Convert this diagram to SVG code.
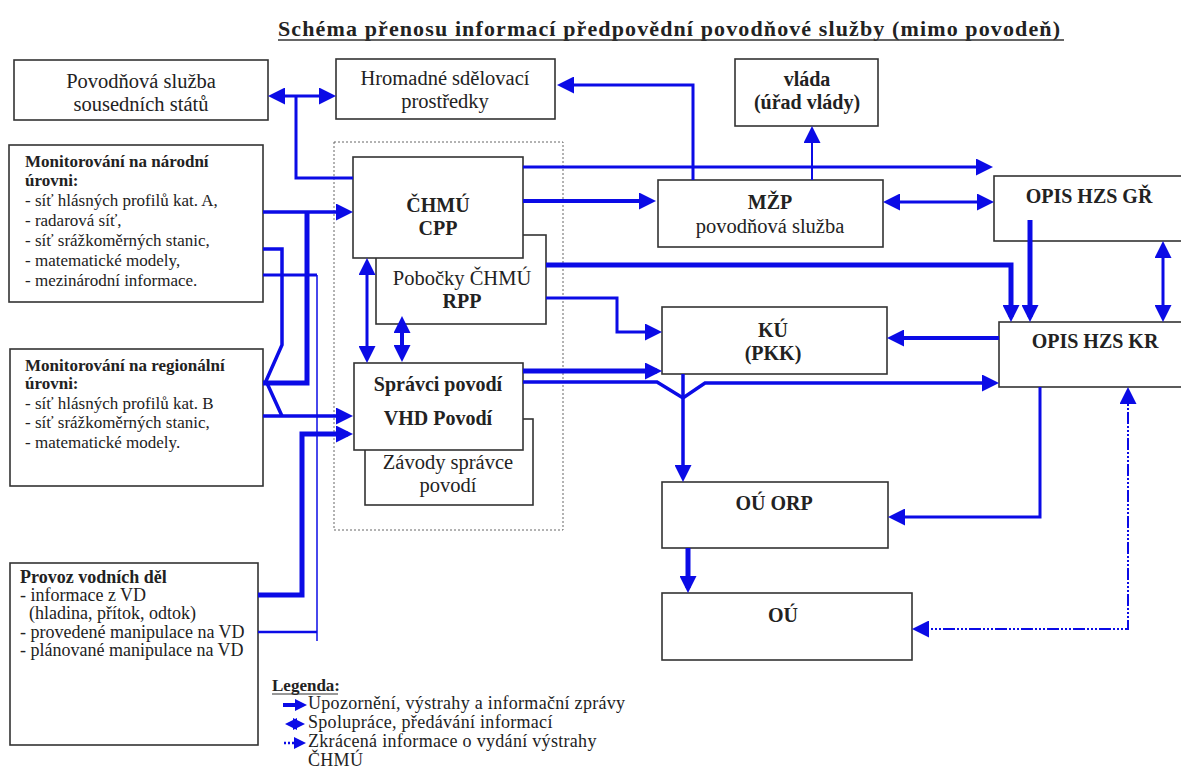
<svg xmlns="http://www.w3.org/2000/svg" width="1181" height="782" viewBox="0 0 1181 782" font-family="'Liberation Serif', 'Times New Roman', Times, serif">
<style>
.box{fill:#fff;stroke:#333;stroke-width:1.6}
.t{font-family:'Liberation Serif','Times New Roman',Times,serif;fill:#222}
.r19{font-size:20.5px}
.b20{font-size:20px;font-weight:bold}
.s17{font-size:17px}
.s18{font-size:18px}
.lg{font-size:18px;letter-spacing:0.3px}
.bold{font-weight:bold}
.c{stroke:#0b0be6;fill:none;stroke-linejoin:miter}
.w15{stroke-width:1.5}.w2{stroke-width:2}.w3{stroke-width:3}.w35{stroke-width:3.5}.w4{stroke-width:4}.w5{stroke-width:5}
.e{marker-end:url(#ah)}
.se{marker-start:url(#ah);marker-end:url(#ah)}
</style>
<defs>
<marker id="ah" viewBox="0 0 17 17" refX="12" refY="8.5" markerWidth="17" markerHeight="17" markerUnits="userSpaceOnUse" orient="auto-start-reverse"><path d="M0,0 L17,8.5 L0,17 z" fill="#0b0be6"/></marker>
<marker id="al" viewBox="0 0 12 12" refX="8" refY="6" markerWidth="12" markerHeight="12" markerUnits="userSpaceOnUse" orient="auto-start-reverse"><path d="M0,0 L12,6 L0,12 z" fill="#0b0be6"/></marker>
</defs>
<rect width="1181" height="782" fill="#fff"/>

<g id="title">
<text class="t bold" x="278" y="36" font-size="22" textLength="782" lengthAdjust="spacing">Schéma přenosu informací předpovědní povodňové služby (mimo povodeň)</text>
<line x1="278" y1="40" x2="1064" y2="40" stroke="#333" stroke-width="1.5"/>
</g>

<rect id="group-chmu" x="334" y="142" width="229" height="388" fill="none" stroke="#666" stroke-width="1" stroke-dasharray="2 2"/>

<g id="n-povodnova">
<rect class="box" x="14" y="60" width="254" height="60"/>
<text class="t r19" x="141" y="88" text-anchor="middle">Povodňová služba</text>
<text class="t r19" x="141" y="111" text-anchor="middle">sousedních států</text>
</g>
<g id="n-hromadne">
<rect class="box" x="336" y="59" width="219" height="60"/>
<text class="t r19" x="445" y="85" text-anchor="middle">Hromadné sdělovací</text>
<text class="t r19" x="445" y="108" text-anchor="middle">prostředky</text>
</g>
<g id="n-vlada">
<rect class="box" x="735" y="59" width="143" height="67"/>
<text class="t b20" x="807" y="86" text-anchor="middle">vláda</text>
<text class="t b20" x="807" y="109" text-anchor="middle">(úřad vlády)</text>
</g>
<g id="n-mon-narodni">
<rect class="box" x="9" y="145" width="254" height="157"/>
<text class="t s17 bold" x="25" y="167">Monitorování na národní</text>
<text class="t s17 bold" x="25" y="186">úrovni:</text>
<text class="t s17" x="25" y="206">- síť hlásných profilů kat. A,</text>
<text class="t s17" x="25" y="226">- radarová síť,</text>
<text class="t s17" x="25" y="246">- síť srážkoměrných stanic,</text>
<text class="t s17" x="25" y="266">- matematické modely,</text>
<text class="t s17" x="25" y="286">- mezinárodní informace.</text>
</g>
<g id="n-pobocky">
<rect class="box" x="376" y="235" width="170" height="89"/>
<text class="t r19" x="462" y="285" text-anchor="middle">Pobočky ČHMÚ</text>
<text class="t b20" x="462" y="308" text-anchor="middle">RPP</text>
</g>
<g id="n-chmu">
<rect class="box" x="353" y="157" width="170" height="101"/>
<text class="t b20" x="438" y="212" text-anchor="middle">ČHMÚ</text>
<text class="t b20" x="438" y="235" text-anchor="middle">CPP</text>
</g>
<g id="n-zavody">
<rect class="box" x="365" y="419" width="168" height="86"/>
<text class="t r19" x="448" y="469" text-anchor="middle">Závody správce</text>
<text class="t r19" x="448" y="492" text-anchor="middle">povodí</text>
</g>
<g id="n-spravci">
<rect class="box" x="354" y="363" width="169" height="87"/>
<text class="t b20" x="438" y="391" text-anchor="middle">Správci povodí</text>
<text class="t b20" x="438" y="425" text-anchor="middle">VHD Povodí</text>
</g>
<g id="n-mzp">
<rect class="box" x="658" y="180" width="225" height="67"/>
<text class="t b20" x="770" y="209" text-anchor="middle">MŽP</text>
<text class="t r19" x="770" y="233" text-anchor="middle">povodňová služba</text>
</g>
<g id="n-opis-gr">
<rect class="box" x="994" y="176" width="200" height="65"/>
<text class="t b20" x="1089" y="203" text-anchor="middle">OPIS HZS GŘ</text>
</g>
<g id="n-ku">
<rect class="box" x="662" y="307" width="225" height="67"/>
<text class="t b20" x="773" y="337" text-anchor="middle">KÚ</text>
<text class="t b20" x="773" y="360" text-anchor="middle">(PKK)</text>
</g>
<g id="n-opis-kr">
<rect class="box" x="999" y="322" width="200" height="65"/>
<text class="t b20" x="1095" y="348" text-anchor="middle">OPIS HZS KR</text>
</g>
<g id="n-mon-regionalni">
<rect class="box" x="10" y="349" width="253" height="137"/>
<text class="t s17 bold" x="25" y="371">Monitorování na regionální</text>
<text class="t s17 bold" x="25" y="389">úrovni:</text>
<text class="t s17" x="25" y="409">- síť hlásných profilů kat. B</text>
<text class="t s17" x="25" y="428">- síť srážkoměrných stanic,</text>
<text class="t s17" x="25" y="448">- matematické modely.</text>
</g>
<g id="n-ou-orp">
<rect class="box" x="662" y="482" width="226" height="66"/>
<text class="t b20" x="774" y="510" text-anchor="middle">OÚ ORP</text>
</g>
<g id="n-ou">
<rect class="box" x="662" y="593" width="250" height="67"/>
<text class="t b20" x="783" y="622" text-anchor="middle">OÚ</text>
</g>
<g id="n-provoz">
<rect class="box" x="10" y="563" width="248" height="182"/>
<text class="t s18 bold" x="20" y="583">Provoz vodních děl</text>
<text class="t s18" x="20" y="601">- informace z VD</text>
<text class="t s18" x="20" y="619" xml:space="preserve">  (hladina, přítok, odtok)</text>
<text class="t s18" x="20" y="638">- provedené manipulace na VD</text>
<text class="t s18" x="20" y="656">- plánované manipulace na VD</text>
</g>

<g id="connectors">
<path class="c w3 se" d="M273,96 H331"/>
<path class="c w3" d="M353,178 H296 V96"/>
<path class="c w3 e" d="M693,180 V85 H562"/>
<path class="c w2 e" d="M812,180 V131"/>
<path class="c w3 e" d="M523,167 H988"/>
<path class="c w4 e" d="M523,201 H651"/>
<path class="c w3 se" d="M888,202 H989"/>
<path class="c w5 e" d="M546,265 H1011 V317"/>
<path class="c w5 e" d="M1030,220 V317"/>
<path class="c w3 se" d="M1163,246 V317"/>
<path class="c w3 e" d="M546,298 H617 V332 H657"/>
<path class="c w5 e" d="M523,371 H657"/>
<path class="c w35 e" d="M523,382 H657 L683,398 L705,383 H994"/>
<path class="c w35 e" d="M683,374 V477"/>
<path class="c w4 e" d="M999,338 H892"/>
<path class="c w3 e" d="M1040,387 V517 H893"/>
<path class="c w5 e" d="M688,548 V588"/>
<path class="c w2 se" stroke-dasharray="12 2 2 2 2 2 2 2" d="M917,629 H1128 V392"/>
<path class="c w35 e" d="M263,212 H348"/>
<path class="c w5" d="M263,383 H307 V212"/>
<path class="c w35" d="M263,249 H282 V345 L266,381 L282,416"/>
<path class="c w35 e" d="M263,416 H348"/>
<path class="c w3" d="M263,275 H317"/>
<path class="c w15" d="M317,275 V641"/>
<path class="c" stroke-width="2.5" d="M258,632 H317"/>
<path class="c w5 e" d="M258,595 H302 V434 H348"/>
<path class="c w3 se" d="M367,263 V358"/>
<path class="c w4 se" d="M402,321 V357"/>
</g>

<g id="legend">
<text class="t bold" x="272" y="691" font-size="17">Legenda:</text>
<line x1="272" y1="694" x2="338" y2="694" stroke="#333" stroke-width="1.2"/>
<path class="c w4" marker-end="url(#al)" d="M283,705 H303"/>
<text class="t lg" x="308" y="709">Upozornění, výstrahy a informační zprávy</text>
<path class="c w3" marker-start="url(#al)" marker-end="url(#al)" d="M289,724 H301"/>
<text class="t lg" x="308" y="728">Spolupráce, předávání informací</text>
<path class="c" stroke-width="2.5" stroke-dasharray="2 2" marker-end="url(#al)" d="M284,743 H302"/>
<text class="t lg" x="308" y="747">Zkrácená informace o vydání výstrahy</text>
<text class="t lg" x="308" y="766">ČHMÚ</text>
</g>
</svg>
